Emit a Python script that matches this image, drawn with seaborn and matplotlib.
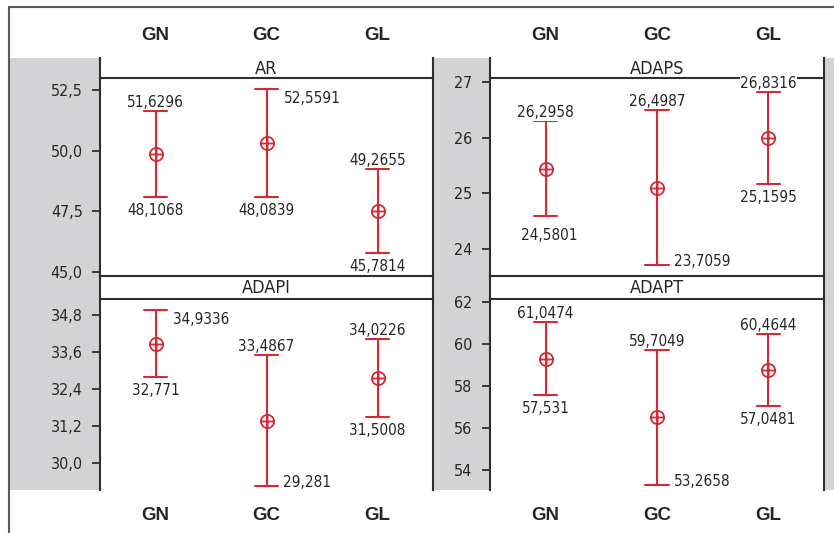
import matplotlib
matplotlib.use("Agg")
import matplotlib.pyplot as plt
import matplotlib.transforms as mtransforms
from matplotlib import font_manager
from matplotlib.path import Path
from matplotlib.patches import Rectangle
from matplotlib.lines import Line2D
import pandas as pd
import seaborn as sns

# ---- data -------------------------------------------------------------
groups = ["GN", "GC", "GL"]

ar_lower = [48.1068, 48.0839, 45.7814]
ar_mean = [49.87, 50.32, 47.52]
ar_upper = [51.6296, 52.5591, 49.2655]

adaps_lower = [24.5801, 23.7059, 25.1595]
adaps_mean = [25.44, 25.10, 26.00]
adaps_upper = [26.2958, 26.4987, 26.8316]

adapi_lower = [32.771, 29.281, 31.5008]
adapi_mean = [33.85, 31.38, 32.76]
adapi_upper = [34.9336, 33.4867, 34.0226]

adapt_lower = [57.531, 53.2658, 57.0481]
adapt_mean = [59.29, 56.49, 58.76]
adapt_upper = [61.0474, 59.7049, 60.4644]

ar_ticks = [45.0, 47.5, 50.0, 52.5]
ar_ticklabels = ["45,0", "47,5", "50,0", "52,5"]
adaps_ticks = [24, 25, 26, 27]
adaps_ticklabels = ["24", "25", "26", "27"]
adapi_ticks = [30.0, 31.2, 32.4, 33.6, 34.8]
adapi_ticklabels = ["30,0", "31,2", "32,4", "33,6", "34,8"]
adapt_ticks = [54, 56, 58, 60, 62]
adapt_ticklabels = ["54", "56", "58", "60", "62"]

# ---- style ------------------------------------------------------------
sns.set_theme(style="white")

# prefer a narrow face for the numbers, if one is installed
narrow = None
for f in font_manager.fontManager.ttflist:
    if f.weight in (400, "normal", "regular") and f.style == "normal" and (
            "Narrow" in f.name or "Condensed" in f.name
            or f.stretch in ("condensed", "semi-condensed")):
        narrow = f
        break
if narrow is not None:
    NUM_PROPS = dict(family=[narrow.name, "DejaVu Sans"], stretch=narrow.stretch)
    NUM_FS = 11
else:
    NUM_PROPS = dict(family=["Roboto", "DejaVu Sans"])
    NUM_FS = 11
plt.rcParams["font.family"] = NUM_PROPS["family"]
if narrow is not None:
    plt.rcParams["font.stretch"] = narrow.stretch

W, H = 834, 533
RED = "#d42a35"
GRAY = "#d3d3d5"
SPINE = "#2e2e2e"
TXT = "#262626"
HEAD_FONT = ["Liberation Sans", "DejaVu Sans"]

fig = plt.figure(figsize=(W / 100, H / 100), dpi=100)
fig.patch.set_facecolor("white")


def box(x0, y0, x1, y1):
    return [x0 / W, 1 - y1 / H, (x1 - x0) / W, (y1 - y0) / H]


# gray band behind the panels
fig.patches.append(Rectangle((10 / W, 1 - 490 / H), (W - 10) / W, (490 - 58) / H,
                             transform=fig.transFigure, facecolor=GRAY,
                             edgecolor="none", zorder=0))
# outer frame (top and left edges)
fig.lines.append(Line2D([9 / W, 1], [1 - 6.5 / H, 1 - 6.5 / H], transform=fig.transFigure,
                        color="#5a5a5a", lw=1.5, solid_capstyle="butt"))
fig.lines.append(Line2D([9 / W, 9 / W], [0, 1 - 6 / H], transform=fig.transFigure,
                        color="#5a5a5a", lw=1.5, solid_capstyle="butt"))

# circle-with-plus mean symbol
oplus = Path.make_compound_path(
    Path.unit_circle(),
    Path([[-1, 0], [1, 0]], [Path.MOVETO, Path.LINETO]),
    Path([[0, -1], [0, 1]], [Path.MOVETO, Path.LINETO]),
)

panels = [
    dict(name="AR", lower=ar_lower, mean=ar_mean, upper=ar_upper,
         ticks=ar_ticks, labels=ar_ticklabels, ylim=(44.85, 53.0),
         cols=(100, 433), rows=(58, 78, 275.7), bottom=True,
         up_pos=["above", "right", "above"], lo_pos=["below", "below", "below"]),
    dict(name="ADAPS", lower=adaps_lower, mean=adaps_mean, upper=adaps_upper,
         ticks=adaps_ticks, labels=adaps_ticklabels, ylim=(23.51, 27.08),
         cols=(490, 824), rows=(58, 78, 275.7), bottom=True,
         up_pos=["above", "above", "above"], lo_pos=["below_far", "right", "below"]),
    dict(name="ADAPI", lower=adapi_lower, mean=adapi_mean, upper=adapi_upper,
         ticks=adapi_ticks, labels=adapi_ticklabels, ylim=(29.14, 35.31),
         cols=(100, 433), rows=(275.7, 298.7, 490), bottom=False,
         up_pos=["right", "above", "above"], lo_pos=["below", "right", "below"]),
    dict(name="ADAPT", lower=adapt_lower, mean=adapt_mean, upper=adapt_upper,
         ticks=adapt_ticks, labels=adapt_ticklabels, ylim=(53.03, 62.14),
         cols=(490, 824), rows=(275.7, 298.7, 490), bottom=False,
         up_pos=["above", "above", "above"], lo_pos=["below", "right", "below"]),
]


def fmt(v):
    return repr(v).replace(".", ",")


for p in panels:
    x0, x1 = p["cols"]
    s0, s1, b1 = p["rows"]

    # strip with the panel title
    sax = fig.add_axes(box(x0, s0, x1, s1), zorder=1)
    sax.set_facecolor("white")
    sax.set_xticks([]); sax.set_yticks([])
    for side in ("top", "bottom"):
        sax.spines[side].set_visible(False)
    for side in ("left", "right"):
        sax.spines[side].set_color(SPINE); sax.spines[side].set_linewidth(1.5)
    sax.text(0.5, 0.45, p["name"], transform=sax.transAxes, ha="center", va="center",
             fontsize=13, color=TXT, **NUM_PROPS)

    ax = fig.add_axes(box(x0, s1, x1, b1), zorder=2)
    ax.set_facecolor("white")

    rows = []
    for g, lo, m, hi in zip(groups, p["lower"], p["mean"], p["upper"]):
        for v in (lo, m, hi):
            rows.append({"group": g, "value": v})
    df = pd.DataFrame(rows)

    sns.pointplot(data=df, x="group", y="value", order=groups, ax=ax,
                  estimator="median", errorbar=lambda v: (v.min(), v.max()),
                  capsize=0.21, color=RED, marker=oplus, markersize=9.5,
                  markerfacecolor="none", markeredgewidth=1.3, linestyle="none",
                  err_kws={"linewidth": 1.5})

    ax.set_xlim(-0.5, 2.5)
    ax.set_ylim(*p["ylim"])
    ax.set_xlabel(""); ax.set_ylabel("")
    ax.set_xticks([])
    ax.set_yticks(p["ticks"])
    ax.set_yticklabels(p["labels"], **NUM_PROPS)
    ax.tick_params(axis="y", left=True, length=5.5, width=1.3, color=SPINE,
                   pad=7, labelsize=NUM_FS + 0.5, labelcolor=TXT)
    for side in ("left", "right", "top", "bottom"):
        ax.spines[side].set_color(SPINE)
        ax.spines[side].set_linewidth(1.5)
    ax.spines["bottom"].set_visible(p["bottom"])

    # value labels at the interval ends
    common = dict(textcoords="offset pixels", va="baseline", fontsize=NUM_FS,
                  color=TXT, annotation_clip=False, zorder=6, **NUM_PROPS)
    for i, (lo, hi) in enumerate(zip(p["lower"], p["upper"])):
        if p["up_pos"][i] == "above":
            ax.annotate(fmt(hi), (i, hi), xytext=(0, 4), ha="center",
                        bbox=dict(facecolor="white", edgecolor="none", pad=0.15),
                        **common)
        else:
            ax.annotate(fmt(hi), (i, hi), xytext=(17, -14), ha="left", **common)
        pos = p["lo_pos"][i]
        if pos == "below":
            ax.annotate(fmt(lo), (i, lo), xytext=(0, -18), ha="center", **common)
        elif pos == "below_far":
            ax.annotate(fmt(lo), (i, lo), xytext=(4, -24), ha="center", **common)
        else:
            ax.annotate(fmt(lo), (i, lo), xytext=(17, -1), ha="left", **common)

    # group headers above and below each column
    trans = mtransforms.blended_transform_factory(ax.transData, fig.transFigure)
    ypix = 35 if p["bottom"] else 516
    for i, g in enumerate(groups):
        fig.text(i, 1 - ypix / H, g, transform=trans, ha="center", va="center",
                 fontsize=13.5, fontweight="bold", color=TXT, family=HEAD_FONT,
                 stretch="normal")

fig.savefig("out.png", dpi=100, facecolor="white")
